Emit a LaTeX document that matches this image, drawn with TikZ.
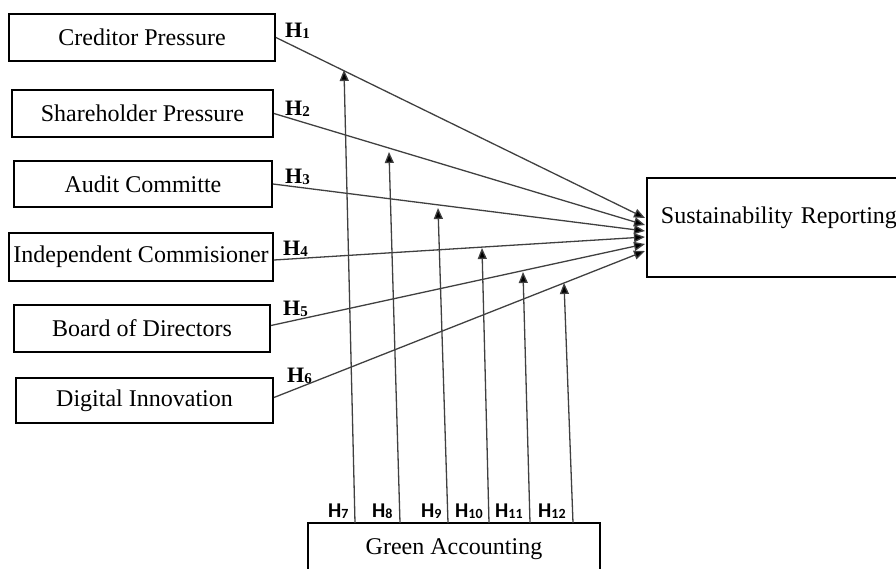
\documentclass[tikz,border=0pt]{standalone}
\usepackage{fontspec}
\setmainfont{Liberation Serif}
\newfontfamily\carl{Carlito}
\usetikzlibrary{arrows.meta}
\newcommand{\hsubA}[1]{\raisebox{-1.5pt}{\fontsize{15}{17}\selectfont #1}}
\newcommand{\hsubB}[1]{\raisebox{-1pt}{\fontsize{14}{16}\selectfont #1}}
\begin{document}
\begin{tikzpicture}[x=1pt,y=-1pt,
  box/.style={draw=black,line width=1.9pt,inner sep=0pt,font=\fontsize{24}{28}\selectfont},
  conn/.style={draw=black!75,line width=1.3pt,-{Triangle[length=11pt,width=9pt,fill=black]}},
  hl/.style={anchor=base west,inner sep=0pt,font=\fontsize{22}{24}\selectfont\bfseries},
  hs/.style={anchor=base west,inner sep=0pt,font=\fontsize{21}{22}\selectfont\carl\bfseries}]
\useasboundingbox (0,0) rectangle (896,568);
% left boxes
\node[box,minimum width=266pt,minimum height=47pt] (cp) at (142,37.5) {Creditor Pressure};
\node[box,minimum width=261pt,minimum height=47pt] (sp) at (142.5,113.5) {Shareholder Pressure};
\node[box,minimum width=258pt,minimum height=46pt] (ac) at (143,184) {Audit Committe};
\node[box,minimum width=264pt,minimum height=48pt] (ic) at (141,257) {Independent Commisioner};
\node[box,minimum width=256pt,minimum height=47pt] (bd) at (142,328.5) {Board of Directors};
\node[box,minimum width=257pt,minimum height=45pt] (di) at (144.5,400.5) {Digital Innovation};
% right box
\node[box,anchor=north west,inner xsep=14pt,inner ysep=0pt,text height=46pt,text depth=53pt,text width=240pt,align=left] (sr) at (646,177) {Sustainability Reporting};
% bottom box
\node[box,minimum width=292pt,minimum height=52pt] (ga) at (454,549) {Green Accounting};
% end points on Sustainability Reporting
\coordinate (e1) at (645,218);
\coordinate (e2) at (645,225);
\coordinate (e3) at (645,231);
\coordinate (e4) at (645,237);
\coordinate (e5) at (645,244);
\coordinate (e6) at (645,251);
\draw[conn] (cp.east) -- (e1);
\draw[conn] (sp.east) -- (e2);
\draw[conn] (ac.east) -- (e3);
\draw[conn] ([yshift=-3pt]ic.east) -- (e4);
\draw[conn] ([yshift=3pt]bd.east) -- (e5);
\draw[conn] ([yshift=3pt]di.east) -- (e6);
% moderating arrows
\coordinate (b7) at (355,523); \coordinate (t7) at (344,70);
\coordinate (b8) at (400,523); \coordinate (t8) at (389,152);
\coordinate (b9) at (448,523); \coordinate (t9) at (438,208);
\coordinate (b10) at (489,523); \coordinate (t10) at (482,248);
\coordinate (b11) at (530,523); \coordinate (t11) at (523,272);
\coordinate (b12) at (573,523); \coordinate (t12) at (564,283);
\foreach \i in {7,...,12}{\draw[conn] (b\i) -- (t\i);}
% labels H1-H6
\node[hl] (h1) at (285,37) {H\hsubA{1}};
\node[hl] (h2) at (285,115) {H\hsubA{2}};
\node[hl] (h3) at (285,183) {H\hsubA{3}};
\node[hl] (h4) at (283,255) {H\hsubA{4}};
\node[hl] (h5) at (283,315) {H\hsubA{5}};
\node[hl] (h6) at (287,382) {H\hsubA{6}};
% labels H7-H12
\node[hs] (h7) at (328,517) {H\hsubB{7}};
\node[hs] (h8) at (372,517) {H\hsubB{8}};
\node[hs] (h9) at (421,517) {H\hsubB{9}};
\node[hs] (h10) at (455,517) {H\hsubB{10}};
\node[hs] (h11) at (495,517) {H\hsubB{11}};
\node[hs] (h12) at (538,517) {H\hsubB{12}};
\end{tikzpicture}
\end{document}
